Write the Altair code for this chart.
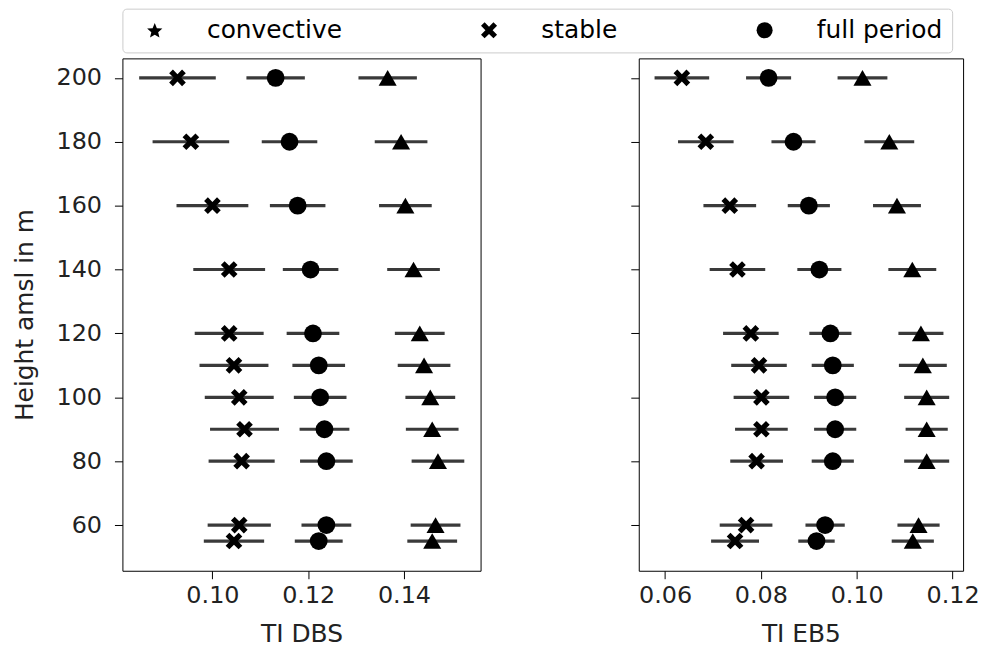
import altair as alt
import pandas as pd
import numpy as np

heights = [200, 180, 160, 140, 120, 110, 100, 90, 80, 60, 55]
categories = ["convective", "stable", "full period"]

dbs_conv = [0.1366, 0.1394, 0.1403, 0.1420, 0.1433, 0.1442, 0.1455, 0.1459, 0.1471, 0.1466, 0.1459]
dbs_conv_err = [0.0061, 0.0055, 0.0055, 0.0055, 0.0052, 0.0055, 0.0052, 0.0055, 0.0055, 0.0052, 0.0052]
dbs_stab = [0.0927, 0.0955, 0.1000, 0.1035, 0.1035, 0.1045, 0.1056, 0.1067, 0.1061, 0.1056, 0.1045]
dbs_stab_err = [0.0080, 0.0080, 0.0075, 0.0075, 0.0072, 0.0072, 0.0072, 0.0072, 0.0069, 0.0066, 0.0063]
dbs_full = [0.1132, 0.1161, 0.1178, 0.1205, 0.1210, 0.1222, 0.1225, 0.1234, 0.1238, 0.1238, 0.1222]
dbs_full_err = [0.0061, 0.0058, 0.0058, 0.0058, 0.0055, 0.0055, 0.0055, 0.0052, 0.0055, 0.0052, 0.0050]

eb5_conv = [0.1012, 0.1068, 0.1084, 0.1116, 0.1134, 0.1138, 0.1146, 0.1146, 0.1146, 0.1129, 0.1117]
eb5_conv_err = [0.0052, 0.0052, 0.0050, 0.0050, 0.0047, 0.0050, 0.0047, 0.0044, 0.0047, 0.0044, 0.0044]
eb5_stab = [0.0635, 0.0685, 0.0735, 0.0751, 0.0779, 0.0796, 0.0801, 0.0801, 0.0791, 0.0769, 0.0746]
eb5_stab_err = [0.0057, 0.0058, 0.0055, 0.0058, 0.0058, 0.0058, 0.0058, 0.0055, 0.0055, 0.0055, 0.0050]
eb5_full = [0.0816, 0.0868, 0.0900, 0.0922, 0.0945, 0.0950, 0.0955, 0.0955, 0.0950, 0.0934, 0.0916]
eb5_full_err = [0.0047, 0.0046, 0.0044, 0.0046, 0.0044, 0.0044, 0.0044, 0.0044, 0.0044, 0.0041, 0.0038]

y_ticks = [60, 80, 100, 120, 140, 160, 180, 200]
dbs_ticks = [0.10, 0.12, 0.14]
eb5_ticks = [0.06, 0.08, 0.10, 0.12]


def long_table(conv, conv_e, stab, stab_e, full, full_e):
    rows = []
    for cat, vals, errs in [("convective", conv, conv_e), ("stable", stab, stab_e), ("full period", full, full_e)]:
        for h, v, e in zip(heights, vals, errs):
            rows.append({"height": h, "cat": cat, "value": v, "err": e})
    return pd.DataFrame(rows)


df_dbs = long_table(dbs_conv, dbs_conv_err, dbs_stab, dbs_stab_err, dbs_full, dbs_full_err)
df_eb5 = long_table(eb5_conv, eb5_conv_err, eb5_stab, eb5_stab_err, eb5_full, eb5_full_err)

# marker shapes
X_PATH = "M -1,-0.55 L -0.55,-1 L 0,-0.45 L 0.55,-1 L 1,-0.55 L 0.45,0 L 1,0.55 L 0.55,1 L 0,0.45 L -0.55,1 L -1,0.55 L -0.45,0 Z"
pts = []
for k in range(10):
    ang = np.deg2rad(-90 + 36 * k)
    r = 1.0 if k % 2 == 0 else 0.45
    pts.append(f"{r*np.cos(ang):.3f},{r*np.sin(ang)+0.1:.3f}")
STAR_PATH = "M " + " L ".join(pts) + " Z"

plot_shapes = {"convective": "triangle-up", "stable": X_PATH, "full period": "circle"}
plot_sizes = {"convective": 330, "stable": 280, "full period": 320}
legend_shapes = [STAR_PATH, X_PATH, "circle"]

FONT = "DejaVu Sans"
Y_DOMAIN = [45.7, 206.1]


def panel(df, xdomain, xticks, xtitle, show_y, width, with_legend):
    base = alt.Chart(df).transform_calculate(
        lo="datum.value - datum.err", hi="datum.value + datum.err"
    )
    xscale = alt.Scale(domain=xdomain, nice=False, zero=False)
    yscale = alt.Scale(domain=Y_DOMAIN, nice=False, zero=False)
    xaxis = alt.Axis(values=xticks, format=".2f", title=xtitle, grid=False)
    if show_y:
        yaxis = alt.Axis(values=y_ticks, title="Height amsl in m", grid=False)
    else:
        yaxis = alt.Axis(values=y_ticks, labels=False, title=None, grid=False)

    layers = []
    for cat in categories:
        sub = base.transform_filter(alt.datum.cat == cat)
        err = sub.mark_rule(color="#3a3a3a", strokeWidth=3.2).encode(
            x=alt.X("lo:Q", scale=xscale, axis=xaxis),
            x2="hi:Q",
            y=alt.Y("height:Q", scale=yscale, axis=yaxis),
        )
        mk = sub.mark_point(
            filled=True, color="black", opacity=1, size=plot_sizes[cat], shape=plot_shapes[cat]
        ).encode(x="value:Q", y="height:Q")
        layers += [err, mk]

    if with_legend:
        leg = alt.Legend(
            orient="top",
            direction="horizontal",
            title=None,
            columns=3,
            columnPadding=124,
            labelOffset=40,
            symbolSize=260,
            symbolOffset=11,
            symbolFillColor="black",
            symbolStrokeWidth=0,
            symbolOpacity=1,
            labelFont=FONT,
            labelFontSize=25,
            labelColor="black",
            strokeColor="#cccccc",
            fillColor="white",
            padding=9,
            cornerRadius=4,
            offset=5,
        )
        dummy = base.mark_point(filled=True, color="black", opacity=0, size=10).encode(
            x="value:Q",
            y="height:Q",
            shape=alt.Shape(
                "cat:N",
                scale=alt.Scale(domain=categories, range=legend_shapes),
                legend=leg,
            ),
        )
        layers.append(dummy)
    return alt.layer(*layers).properties(width=width, height=515)


left = panel(df_dbs, [0.0812, 0.156], dbs_ticks, "TI DBS", True, 360, True)
right = panel(df_eb5, [0.0545, 0.1222], eb5_ticks, "TI EB5", False, 326, False)

chart = alt.hconcat(left, right, spacing=149).configure(
    padding={"left": 3, "top": -2, "right": 0, "bottom": 0}, background="white"
).configure_view(
    stroke="black", strokeWidth=1
).configure_axis(
    domain=False,
    tickColor="black",
    tickSize=8,
    tickWidth=1,
    labelFont=FONT,
    labelFontSize=24,
    labelColor="#222222",
    titleFont=FONT,
    titleFontSize=25,
    titleFontWeight="normal",
    titleColor="#222222",
).configure_axisX(
    labelPadding=5, titlePadding=14
).configure_axisY(
    labelPadding=13, titlePadding=19
)

chart.save("out.html", embed_options={"renderer": "svg", "actions": False})
